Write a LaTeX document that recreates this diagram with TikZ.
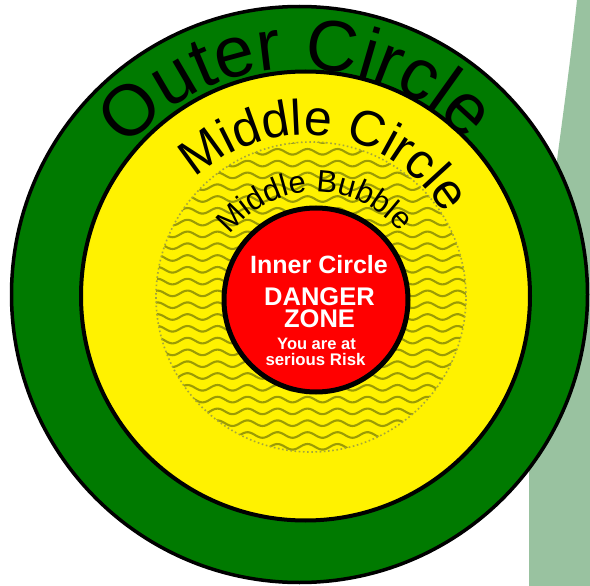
\documentclass[tikz,border=0pt]{standalone}
\usepackage{fontspec}
\setmainfont{Liberation Sans}
\usetikzlibrary{decorations.text}
\definecolor{bggreen}{RGB}{153,194,160}
\definecolor{ringgreen}{RGB}{0,122,0}
\definecolor{wavecol}{RGB}{155,155,5}
\definecolor{dotcol}{RGB}{165,165,60}
\newcommand\OTfont{\fontsize{72}{72}\selectfont}
\newcommand\MCfont{\fontsize{50}{50}\selectfont}
\newcommand\MBfont{\fontsize{31}{31}\selectfont}
\tikzset{
  ring/.style={circle, draw=black, inner sep=0pt, outer sep=0pt},
  wave/.style={draw=wavecol, line width=2.1pt},
  whitetxt/.style={text=white, font=\bfseries, inner sep=0pt, anchor=base},
}
\begin{document}
\begin{tikzpicture}[x=1pt,y=1pt]
\useasboundingbox (0,0) rectangle (590,-586);
% background band
\fill[bggreen] (577,0) .. controls (560,-160) and (529,-320) .. (529,-480) -- (529,-586) -- (590,-586) -- (590,0) -- cycle;
% outer ring
\node (outer) [ring, fill=ringgreen, line width=3.5pt, minimum size=576pt] at (299.5,-294.5) {};
% middle ring
\node (middle) [ring, fill=yellow, line width=4pt, minimum size=449pt] at (305.5,-296) {};
% waves in bubble
\begin{scope}
\clip (311,-297) circle (155);
\foreach \k in {0,...,27} {
  \draw[wave] plot[domain=150:475, samples=160, smooth] (\x, {-140 - 11.8*\k + 2.8*sin(12.0*\x)});
}
\end{scope}
\node (bubble) [circle, draw=dotcol, line width=1.6pt, dash pattern=on 1.6pt off 2.6pt, minimum size=310pt, inner sep=0pt] at (311,-297) {};
% inner circle
\node (inner) [ring, fill=red, line width=5pt, minimum size=184pt] at (316,-300) {};
% arc texts
\path[decorate, decoration={text along path, text align=center, text={|\OTfont|Outer Circle}}]
  (outer.center) ++(181:226) arc[start angle=181, end angle=1, radius=226];
\path[decorate, decoration={text along path, text align=center, text={|\MCfont|Middle Circle}}]
  (middle.center) ++(172:161) arc[start angle=172, end angle=-8, radius=161];
\path[decorate, decoration={text along path, text align=center, text={|\MBfont|Middle Bubble}}]
  (inner.center) ++(181:108) arc[start angle=181, end angle=1, radius=108];
% inner texts
\node (t1) [whitetxt, font=\bfseries\fontsize{25}{25}\selectfont] at (319,-273) {Inner Circle};
\node (t2) [whitetxt, font=\bfseries\fontsize{25.5}{25.5}\selectfont] at (319.5,-305) {DANGER};
\node (t3) [whitetxt, font=\bfseries\fontsize{25.5}{25.5}\selectfont] at (319.5,-327.5) {ZONE};
\node (t4) [whitetxt, font=\bfseries\fontsize{16.5}{16.5}\selectfont] at (316.5,-349) {You are at};
\node (t5) [whitetxt, font=\bfseries\fontsize{16.8}{16.8}\selectfont] at (315.5,-365) {serious Risk};
\end{tikzpicture}
\end{document}
